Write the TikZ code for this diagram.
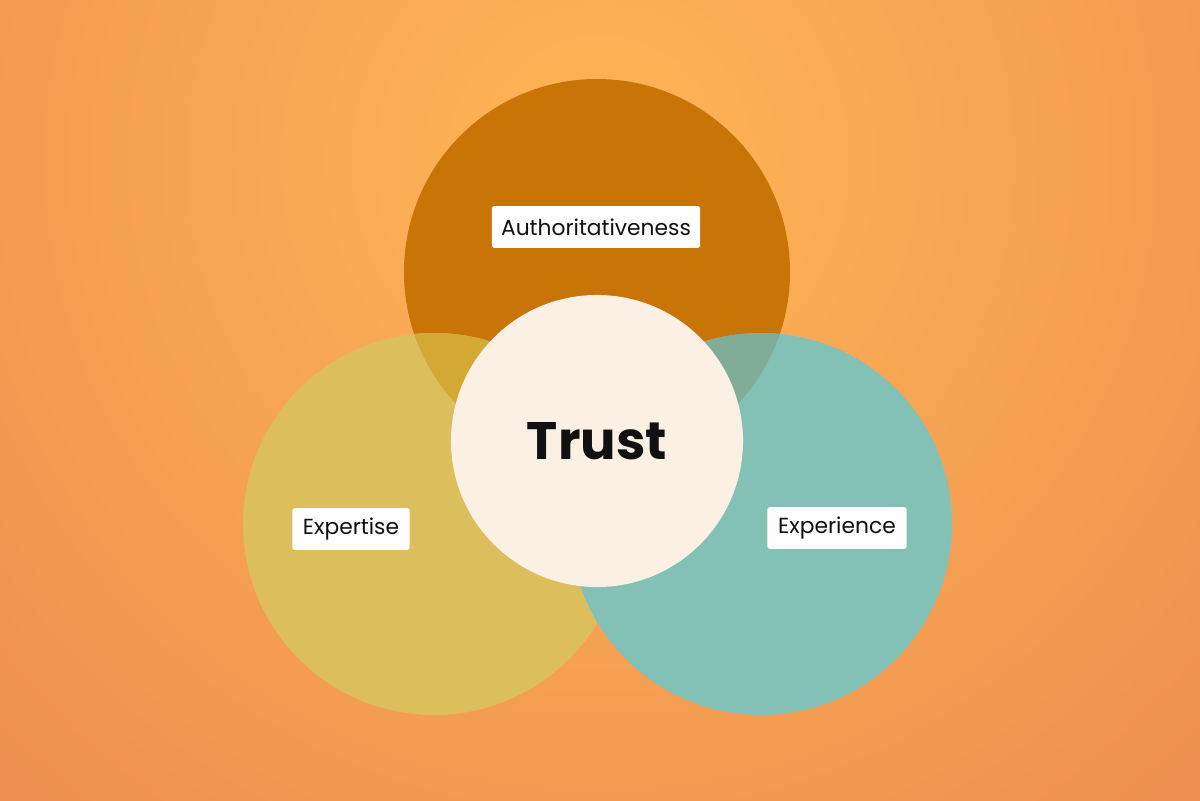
\documentclass[tikz,border=0pt]{standalone}
\usepackage{fontspec}
\setmainfont{Poppins}
\usetikzlibrary{positioning}
\definecolor{bgin}{HTML}{FFB556}
\definecolor{bgout}{HTML}{E47C4C}
\definecolor{authbrown}{HTML}{C87406}
\definecolor{expyellow}{HTML}{DDBE5C}
\definecolor{expteal}{HTML}{83C1B7}
\definecolor{trustcream}{HTML}{FBF0E3}
\definecolor{ovyellow}{HTML}{D4A834}
\definecolor{ovteal}{HTML}{80AC98}
\definecolor{inkdark}{HTML}{111111}
\tikzset{tag/.style={fill=white, rounded corners=1.5pt, inner sep=0pt, text=inkdark,
    minimum height=1.04cm, font=\fontsize{15.5}{18}\selectfont}}

\begin{document}
\begin{tikzpicture}[x=0.025cm, y=-0.025cm]
    \useasboundingbox (0,0) rectangle (1200,800);
    \begin{scope}
      \clip (0,0) rectangle (1200,800);
      \shade[inner color=bgin, outer color=bgout] (600,160) circle (1350);
    \end{scope}
    \coordinate (auth) at (597,272);
    \coordinate (expt) at (434,524);
    \coordinate (expc) at (761,524);
    \fill[authbrown] (auth) circle (193);
    \fill[expyellow] (expt) circle (191);
    \fill[expteal] (expc) circle (191);
    % overlaps with the top circle
    \begin{scope}
      \clip (auth) circle (193);
      \fill[ovyellow] (expt) circle (191);
      \fill[ovteal] (expc) circle (191);
    \end{scope}
    \node[circle, fill=trustcream, minimum size=7.3cm, inner sep=0pt, text=inkdark,
          font=\bfseries\fontsize{37.5}{42}\selectfont] (trust) at (597,441) {Trust};
    \node[tag, minimum width=5.2cm] (authtag) at (596,227) {Authoritativeness};
    \node[tag, minimum width=2.93cm] (expttag) at (351,529) {Expertise};
    \node[tag, minimum width=3.48cm] (expctag) at (837,528) {Experience};
  \end{tikzpicture}
\end{document}
